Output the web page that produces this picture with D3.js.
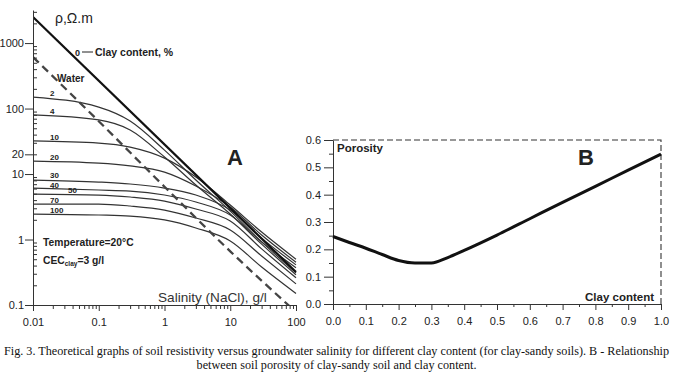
<!DOCTYPE html>
<html>
<head>
<meta charset="utf-8">
<script src="https://cdn.jsdelivr.net/npm/d3@7"></script>
<style>
  body { margin: 0; background: #fff; }
  svg { display: block; }
</style>
</head>
<body>
<div id="wrapper"></div>
<script>
// Panel A: resistivity vs salinity (log-log)
const salinity = [0.01, 0.1, 0.3, 1, 3, 10, 30, 100];
const rhoClay2 = [150, 105, 64.5, 23.2, 8.1, 2.72, 0.92, 0.31];
const rhoClay4 = [80, 67, 47, 18.2, 6.8, 2.45, 0.85, 0.29];
const rhoClay10 = [32, 29.7, 25.8, 17.5, 9.0, 3.36, 1.3, 0.5];
const rhoClay20 = [15.8, 14.7, 13.3, 10.7, 6.56, 3.13, 1.17, 0.45];
const rhoClay30 = [8.1, 7.55, 7.04, 6.11, 4.78, 2.82, 1.05, 0.41];
const rhoClay40 = [6.11, 5.7, 5.5, 4.78, 3.74, 2.37, 0.92, 0.37];
const rhoClay50 = [4.95, 4.78, 4.46, 3.87, 2.92, 1.92, 0.72, 0.26];
const rhoClay70 = [3.48, 3.48, 3.25, 2.82, 2.13, 1.4, 0.56, 0.21];
const rhoClay100 = [2.45, 2.37, 2.28, 1.99, 1.5, 0.95, 0.38, 0.15];
const clayLabels = ["2", "4", "10", "20", "30", "40", "50", "70", "100"];

const clay0Salinity = [0.01, 100];
const clay0Rho = [2500, 0.32];
const waterSalinity = [0.01, 0.1, 1, 10, 100];
const waterRho = [611, 64, 6.4, 0.66, 0.078];

const yTicksA = [0.1, 1, 10, 20, 100, 1000];
const xTicksA = [0.01, 0.1, 1, 10, 100];

// Panel B: porosity vs clay content
const clayFraction = [0, 0.05, 0.1, 0.15, 0.2, 0.25, 0.3, 0.35, 0.4, 0.5, 0.6, 0.7, 0.8, 0.9, 1.0];
const porosity = [0.247, 0.225, 0.204, 0.181, 0.159, 0.15, 0.15, 0.17, 0.196, 0.252, 0.312, 0.372, 0.43, 0.49, 0.548];
const xTicksB = [0, 0.1, 0.2, 0.3, 0.4, 0.5, 0.6, 0.7, 0.8, 0.9, 1.0];
const yTicksB = [0, 0.1, 0.2, 0.3, 0.4, 0.5, 0.6];

const captionLines = [
  "Fig. 3. Theoretical graphs of soil resistivity versus groundwater salinity for different clay content (for clay-sandy soils). B - Relationship",
  "between soil porosity of clay-sandy soil and clay content.",
];

function drawChart() {
  const width = 673;
  const height = 378;
  const sans = "'Liberation Sans', Arial, sans-serif";
  const ink = "#222";

  const svg = d3
    .select("#wrapper")
    .append("svg")
    .attr("width", width)
    .attr("height", height)
    .style("font-family", sans);

  // ---------- A ----------
  const boxA = { left: 33, right: 296, top: 10, bottom: 305 };
  const xA = d3.scaleLog().domain([0.01, 100]).range([boxA.left, boxA.right]);
  const yA = d3.scaleLog().domain([0.1, 3200]).range([boxA.bottom, boxA.top]);

  const minorOf = (lo, hi) => {
    const out = [];
    for (let e = Math.floor(Math.log10(lo)); e <= Math.ceil(Math.log10(hi)); e++) {
      for (let k = 2; k <= 9; k++) {
        const v = k * Math.pow(10, e);
        if (v > lo && v < hi) out.push(+v.toPrecision(3));
      }
    }
    return out;
  };

  svg.append("clipPath").attr("id", "clipA")
    .append("rect")
    .attr("x", boxA.left).attr("y", boxA.top)
    .attr("width", boxA.right - boxA.left + 3)
    .attr("height", boxA.bottom - boxA.top);

  const plotA = svg.append("g").attr("clip-path", "url(#clipA)");

  const lineA = d3.line()
    .x((d) => xA(d[0]))
    .y((d) => yA(d[1]))
    .curve(d3.curveMonotoneX);

  const clayCurves = [rhoClay2, rhoClay4, rhoClay10, rhoClay20, rhoClay30,
    rhoClay40, rhoClay50, rhoClay70, rhoClay100];

  plotA.selectAll(".clay")
    .data(clayCurves)
    .enter()
    .append("path")
    .attr("class", "clay")
    .attr("d", (vals) => lineA(salinity.map((s, i) => [s, vals[i]])))
    .attr("fill", "none")
    .attr("stroke", "#333")
    .attr("stroke-width", 1.2);

  plotA.append("path")
    .attr("d", lineA(waterSalinity.map((s, i) => [s, waterRho[i]])))
    .attr("fill", "none")
    .attr("stroke", "#444")
    .attr("stroke-width", 2.3)
    .attr("stroke-dasharray", "8 5");

  plotA.append("path")
    .attr("d", d3.line().x((d) => xA(d[0])).y((d) => yA(d[1]))(
      clay0Salinity.map((s, i) => [s, clay0Rho[i]])))
    .attr("fill", "none")
    .attr("stroke", "#111")
    .attr("stroke-width", 2.2);

  // axes A
  svg.append("g")
    .attr("transform", `translate(${boxA.left},0)`)
    .call(d3.axisLeft(yA).tickValues(yTicksA).tickFormat((d) => String(d))
      .tickSizeInner(8).tickSizeOuter(0).tickPadding(1));
  svg.append("g")
    .attr("transform", `translate(${boxA.left},0)`)
    .call(d3.axisRight(yA).tickValues(minorOf(0.1, 3200)).tickFormat("")
      .tickSize(4))
    .call((g) => g.select(".domain").remove());

  svg.append("g")
    .attr("transform", `translate(0,${boxA.bottom})`)
    .call(d3.axisBottom(xA).tickValues(xTicksA).tickFormat((d) => String(d))
      .tickSizeInner(6).tickSizeOuter(0).tickPadding(7));
  svg.append("g")
    .attr("transform", `translate(0,${boxA.bottom})`)
    .call(d3.axisBottom(xA).tickValues(minorOf(0.01, 100)).tickFormat("")
      .tickSize(4))
    .call((g) => g.select(".domain").remove());

  // curve labels (sit on their curve near the left edge)
  const labelDx = { "50": 35 };
  const labelDy = { "30": -2.5, "40": 0 };
  svg.selectAll(".clayLabel")
    .data(clayCurves)
    .enter()
    .append("text")
    .attr("x", (d, i) => xA(salinity[0]) + (labelDx[clayLabels[i]] || 17))
    .attr("y", (d, i) => yA(d[0]) + (labelDy[clayLabels[i]] ?? -1))
    .text((d, i) => clayLabels[i])
    .style("font-size", "8px")
    .style("font-weight", "bold")
    .attr("fill", ink);

  const annotate = (x, y, txt, size, weight) =>
    svg.append("text")
      .attr("x", x).attr("y", y)
      .text(txt)
      .style("font-size", size + "px")
      .style("font-weight", weight || "normal")
      .attr("fill", ink);

  annotate(55, 23, "ρ,Ω.m", 14);
  annotate(75, 56, "0", 9, "bold");
  svg.append("line")
    .attr("x1", 82).attr("x2", 93).attr("y1", 52).attr("y2", 52)
    .attr("stroke", ink).attr("stroke-width", 1);
  annotate(95, 56, "Clay content, %", 10.5, "bold");
  annotate(57, 82, "Water", 10, "bold");
  annotate(227, 165, "A", 22, "bold");
  annotate(43, 246, "Temperature=20°C", 10.3, "bold");

  const cec = svg.append("text")
    .attr("x", 43).attr("y", 264)
    .style("font-size", "10.3px")
    .style("font-weight", "bold")
    .attr("fill", ink);
  cec.append("tspan").text("CEC");
  cec.append("tspan").text("clay").attr("dy", 2).style("font-size", "6.5px");
  cec.append("tspan").text("=3 g/l").attr("dy", -2);

  annotate(158, 302, "Salinity (NaCl), g/l", 13.6).attr("fill", "#333");

  // ---------- B ----------
  const boxB = { left: 333, right: 661, top: 140, bottom: 304 };
  const xB = d3.scaleLinear().domain([0, 1]).range([boxB.left, boxB.right]);
  const yB = d3.scaleLinear().domain([0, 0.6]).range([boxB.bottom, boxB.top]);

  // dashed frame top/right
  svg.append("path")
    .attr("d", `M${xB(0)},${yB(0.6)}H${xB(1)}V${yB(0)}`)
    .attr("fill", "none")
    .attr("stroke", "#333")
    .attr("stroke-width", 1.1)
    .attr("stroke-dasharray", "6 3");

  svg.append("g")
    .attr("transform", `translate(${boxB.left},0)`)
    .call(d3.axisLeft(yB).tickValues(yTicksB).tickFormat(d3.format(".1f"))
      .tickSizeInner(9).tickSizeOuter(0).tickPadding(3));
  svg.append("g")
    .attr("transform", `translate(${boxB.left},0)`)
    .call(d3.axisLeft(yB).tickValues(d3.range(0.05, 0.6, 0.1)).tickFormat("")
      .tickSize(4))
    .call((g) => g.select(".domain").remove());

  svg.append("g")
    .attr("transform", `translate(0,${boxB.bottom})`)
    .call(d3.axisBottom(xB).tickValues(xTicksB).tickFormat(d3.format(".1f"))
      .tickSizeInner(6).tickSizeOuter(0).tickPadding(7));
  svg.append("g")
    .attr("transform", `translate(0,${boxB.bottom})`)
    .call(d3.axisBottom(xB).tickValues(d3.range(0.05, 1, 0.1)).tickFormat("")
      .tickSize(3))
    .call((g) => g.select(".domain").remove());

  svg.append("path")
    .attr("d", d3.line().x((d, i) => xB(clayFraction[i])).y((d) => yB(d))
      .curve(d3.curveMonotoneX)(porosity))
    .attr("fill", "none")
    .attr("stroke", "#111")
    .attr("stroke-width", 3)
    .attr("stroke-linejoin", "round");

  annotate(337, 152, "Porosity", 11.5, "bold");
  annotate(578, 165, "B", 22, "bold");
  annotate(585, 301, "Clay content", 11.5, "bold");

  // axis styling
  svg.selectAll(".tick text")
    .style("font-family", sans)
    .style("font-size", "11px")
    .attr("fill", ink);
  svg.selectAll(".domain, .tick line").attr("stroke", "#333");

  // caption
  svg.selectAll(".caption")
    .data(captionLines)
    .enter()
    .append("text")
    .attr("class", "caption")
    .attr("x", width / 2)
    .attr("y", (d, i) => 355 + i * 14)
    .attr("text-anchor", "middle")
    .style("font-family", "'Liberation Serif', 'Times New Roman', serif")
    .style("font-size", "12.2px")
    .attr("fill", "#111")
    .text((d) => d);
}
drawChart();
</script>
</body>
</html>
